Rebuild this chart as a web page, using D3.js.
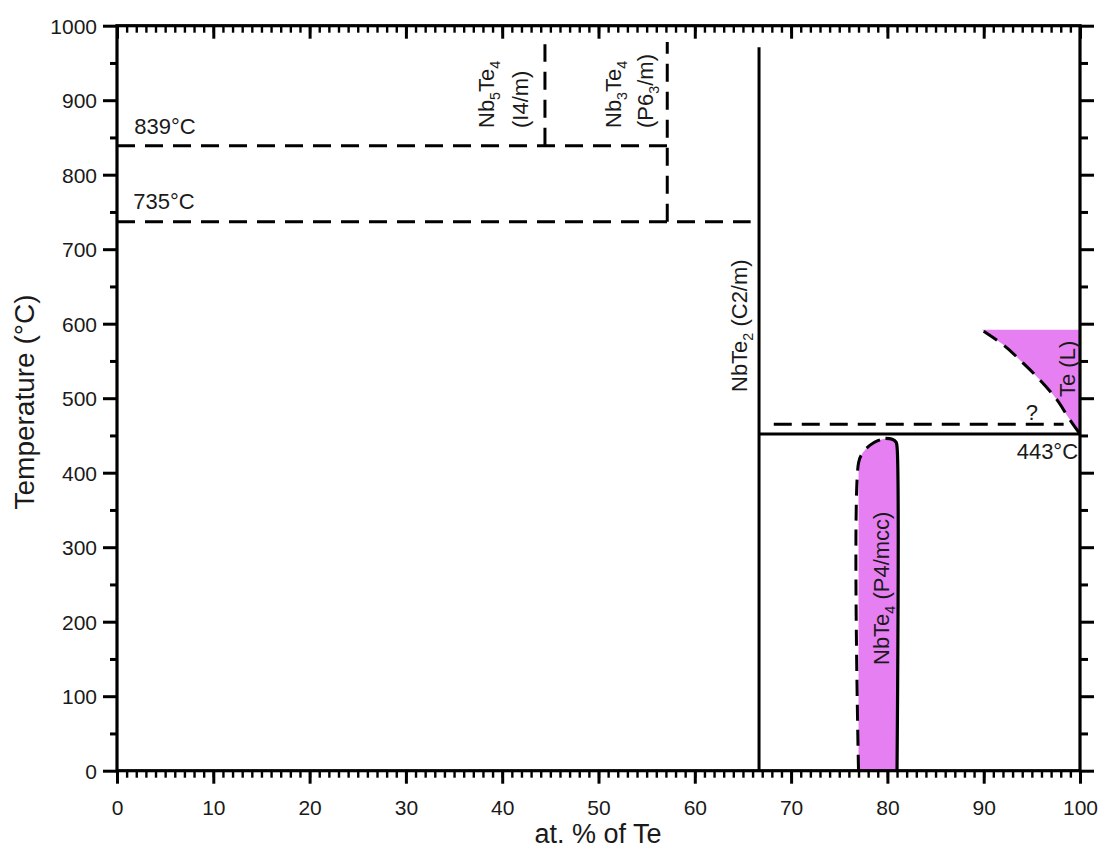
<!DOCTYPE html>
<html>
<head>
<meta charset="utf-8">
<script src="https://cdn.jsdelivr.net/npm/d3@7"></script>
<style>
  html, body { margin: 0; padding: 0; background: #fff; }
  svg { display: block; }
  text { font-family: "Liberation Sans", Arial, Helvetica, sans-serif; fill: #1a1a1a; }
</style>
</head>
<body>
<svg id="chart" width="1101" height="851"></svg>
<script>
// ---------------- data ----------------
const xDomain = [0, 100];
const yDomain = [0, 1000];
const xMajorTicks = d3.range(0, 101, 10);
const xMinorTicks = d3.range(0, 101, 1);
const yMajorTicks = d3.range(0, 1001, 100);
const yMinorTicks = d3.range(50, 1000, 100);
const xTitle = "at. % of Te";
const yTitle = "Temperature (°C)";

// solid phase boundaries [x (at.% Te), T (°C)]
const nbte2Line = [[66.67, 0], [66.67, 971]];
const eutecticLine = [[66.67, 452], [100, 452]];
// dashed boundaries
const iso839 = [[0, 839], [57.14, 839]];
const iso735 = [[0, 737], [65.8, 737]];
const nb5te4Line = [[44.44, 839], [44.44, 975]];
const nb3te4Line = [[57.14, 737], [57.14, 978]];
const questionLine = [[68.2, 465], [98.3, 465]];
// Te liquidus (dashed) and liquid region
const teLiquidus = [[90.0, 590], [92.0, 572], [94.1, 547], [95.8, 525], [97.6, 498], [98.8, 474], [100, 452]];
const teRegionTop = [[89.8, 592], [100, 592]];
// NbTe4 homogeneity region
const nbte4Left = [[77.0, 0], [77.0, 413], [77.4, 426], [78.2, 437], [79.0, 443], [79.8, 446]];
const nbte4Right = [[79.8, 446], [80.5, 445], [80.9, 441], [81.0, 435], [81.0, 0]];

const isoLabels = ["839°C", "735°C", "443°C"];
const phaseLabels = {
  nb5te4: [["Nb", ""], ["5", "sub"], ["Te", ""], ["4", "sub"]],
  nb5te4sg: [["(I4/m)", ""]],
  nb3te4: [["Nb", ""], ["3", "sub"], ["Te", ""], ["4", "sub"]],
  nb3te4sg: [["(P6", ""], ["3", "sub"], ["/m)", ""]],
  nbte2: [["NbTe", ""], ["2", "sub"], [" (C2/m)", ""]],
  nbte4: [["NbTe", ""], ["4", "sub"], [" (P4/mcc)", ""]],
  te: [["Te (L)", ""]],
  q: [["?", ""]]
};

// ---------------- layout ----------------
const svg = d3.select("#chart");
const x = d3.scaleLinear().domain(xDomain).range([117, 1080]);
const y = d3.scaleLinear().domain(yDomain).range([770.7, 25.7]);
const pink = "#e67ff2";
const ink = "#000";
const labelSize = 22;

const line = d3.line().x(d => x(d[0])).y(d => y(d[1]));
const curve = d3.line().x(d => x(d[0])).y(d => y(d[1])).curve(d3.curveMonotoneY);
const catLine = d3.line().x(d => x(d[0])).y(d => y(d[1])).curve(d3.curveCatmullRom);

// filled regions
svg.append("path")
  .attr("d", "M" + teRegionTop.map(d => [x(d[0]), y(d[1])]).join("L") +
       "L" + x(100) + "," + y(452) +
       curve(teLiquidus.slice().reverse()).replace(/^M/, "L") + "Z")
  .attr("fill", pink).attr("stroke", "none");

svg.append("path")
  .attr("d",
       "M" + x(nbte4Left[0][0]) + "," + y(nbte4Left[0][1]) +
       catLine(nbte4Left.slice(1)).replace(/^M/, "L") +
       catLine(nbte4Right.slice(0, 4)).replace(/^M/, "L") +
       "L" + x(nbte4Right[4][0]) + "," + y(nbte4Right[4][1]) + "Z")
  .attr("fill", pink).attr("stroke", "none");

// dashed lines
const dash = "18,10";
[iso839, iso735, nb5te4Line, nb3te4Line, questionLine].forEach(seg => {
  svg.append("path").attr("d", line(seg))
    .attr("fill", "none").attr("stroke", ink).attr("stroke-width", 3)
    .attr("stroke-dasharray", dash);
});
svg.append("path").attr("d", curve(teLiquidus))
  .attr("fill", "none").attr("stroke", ink).attr("stroke-width", 3)
  .attr("stroke-dasharray", "16,9");

svg.append("path").attr("d", catLine(nbte4Left))
  .attr("fill", "none").attr("stroke", ink).attr("stroke-width", 3)
  .attr("stroke-dasharray", "16,9");
svg.append("path").attr("d", catLine(nbte4Right))
  .attr("fill", "none").attr("stroke", ink).attr("stroke-width", 3.2);

// solid lines
[nbte2Line, eutecticLine].forEach(seg => {
  svg.append("path").attr("d", line(seg))
    .attr("fill", "none").attr("stroke", ink).attr("stroke-width", 3);
});

// ---------------- axes ----------------
function styleAxis(g, width) {
  g.select(".domain").remove();
  g.selectAll(".tick line").attr("stroke", ink).attr("stroke-width", width);
  g.selectAll(".tick text").attr("font-size", 21).attr("fill", "#1a1a1a")
    .attr("font-family", "Liberation Sans, Arial, sans-serif");
}

// bottom
const gB = svg.append("g").attr("transform", `translate(0,${y(0)})`);
gB.call(d3.axisBottom(x).tickValues(xMinorTicks).tickSize(7).tickFormat(""));
styleAxis(gB, 2.4);
const gB2 = svg.append("g").attr("transform", `translate(0,${y(0)})`);
gB2.call(d3.axisBottom(x).tickValues(xMajorTicks).tickSize(13).tickPadding(16).tickFormat(d3.format("d")));
styleAxis(gB2, 3);

// top (inward)
const gT = svg.append("g").attr("transform", `translate(0,${y(1000)})`);
gT.call(d3.axisTop(x).tickValues(xMinorTicks).tickSize(-7).tickFormat(""));
styleAxis(gT, 2.4);
const gT2 = svg.append("g").attr("transform", `translate(0,${y(1000)})`);
gT2.call(d3.axisTop(x).tickValues(xMajorTicks).tickSize(-13).tickFormat(""));
styleAxis(gT2, 3);

// left
const gL = svg.append("g").attr("transform", `translate(${x(0)},0)`);
gL.call(d3.axisLeft(y).tickValues(yMinorTicks).tickSize(7).tickFormat(""));
styleAxis(gL, 3);
const gL2 = svg.append("g").attr("transform", `translate(${x(0)},0)`);
gL2.call(d3.axisLeft(y).tickValues(yMajorTicks).tickSize(14).tickPadding(6).tickFormat(d3.format("d")));
styleAxis(gL2, 3);
gL2.selectAll(".tick text").attr("dy", "0.36em");

// right (outward)
const gR = svg.append("g").attr("transform", `translate(${x(100)},0)`);
gR.call(d3.axisRight(y).tickValues(yMinorTicks).tickSize(8).tickFormat(""));
styleAxis(gR, 3);
const gR2 = svg.append("g").attr("transform", `translate(${x(100)},0)`);
gR2.call(d3.axisRight(y).tickValues(yMajorTicks).tickSize(14).tickFormat(""));
styleAxis(gR2, 3);

// frame
svg.append("rect")
  .attr("x", x(0)).attr("y", y(1000))
  .attr("width", x(100) - x(0)).attr("height", y(0) - y(1000))
  .attr("fill", "none").attr("stroke", ink).attr("stroke-width", 3.2);

// ---------------- titles ----------------
svg.append("text").attr("x", 598).attr("y", 843)
  .attr("text-anchor", "middle").attr("font-size", 27).text(xTitle);
svg.append("text")
  .attr("transform", `translate(34,402) rotate(-90)`)
  .attr("text-anchor", "middle").attr("font-size", 28).text(yTitle);

// ---------------- annotations ----------------
function rich(parent, parts, size) {
  const t = parent.append("text").attr("font-size", size);
  let shifted = false;
  parts.forEach(p => {
    const ts = t.append("tspan").text(p[0]);
    if (p[1] === "sub" && !shifted) { ts.attr("dy", 6).attr("font-size", size * 0.65); shifted = true; }
    else if (p[1] === "sub") { ts.attr("font-size", size * 0.65); }
    else if (shifted) { ts.attr("dy", -6); shifted = false; }
  });
  return t;
}
function rotatedLabel(parts, bx, by, anchor) {
  const g = svg.append("g").attr("transform", `translate(${bx},${by}) rotate(-90)`);
  rich(g, parts, labelSize).attr("text-anchor", anchor || "start");
}

svg.append("text").attr("x", x(1.8)).attr("y", y(839) - 12).attr("font-size", labelSize).text(isoLabels[0]);
svg.append("text").attr("x", x(1.7)).attr("y", y(737) - 13).attr("font-size", labelSize).text(isoLabels[1]);
svg.append("text").attr("x", x(99.8)).attr("y", y(452) + 25).attr("text-anchor", "end")
  .attr("font-size", labelSize).text(isoLabels[2]);

rotatedLabel(phaseLabels.nb5te4, 494, 128);
rotatedLabel(phaseLabels.nb5te4sg, 528, 128);
rotatedLabel(phaseLabels.nb3te4, 621, 128);
rotatedLabel(phaseLabels.nb3te4sg, 653, 128);
rotatedLabel(phaseLabels.nbte2, 747, 392);
rotatedLabel(phaseLabels.nbte4, 889, 665);
rotatedLabel(phaseLabels.te, 1075, 397);

svg.append("text").attr("x", x(95.0)).attr("y", y(465) - 4).attr("text-anchor", "middle")
  .attr("font-size", labelSize).text(phaseLabels.q[0][0]);
</script>
</body>
</html>
